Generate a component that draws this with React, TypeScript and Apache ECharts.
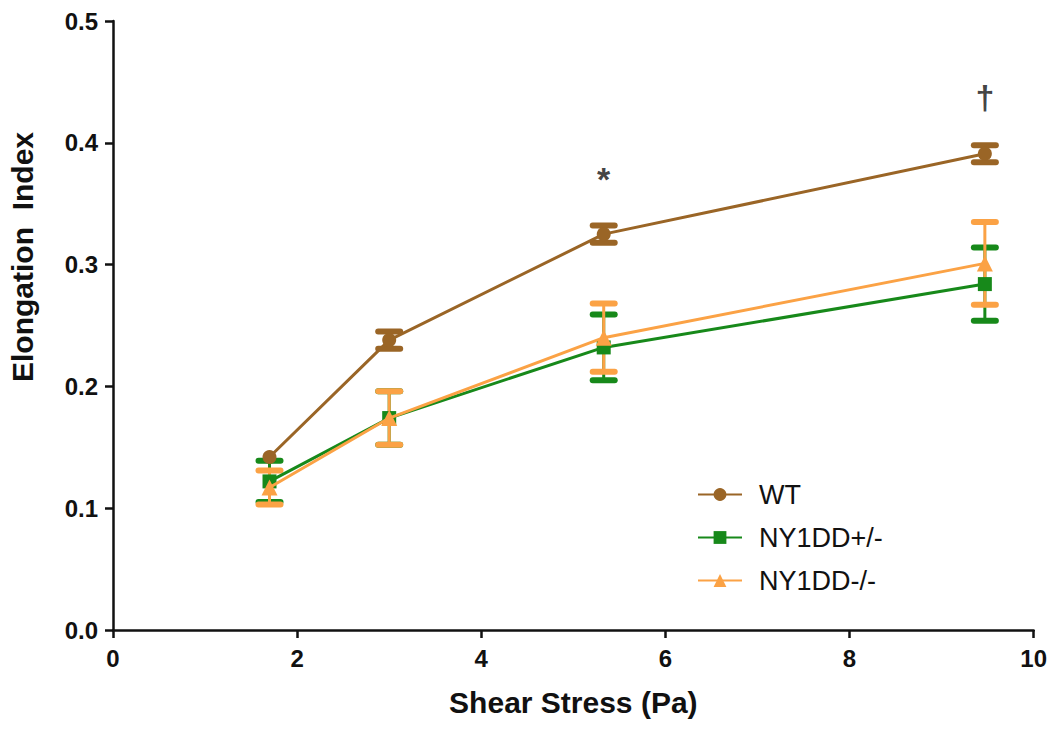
import React, { useEffect, useRef } from "react";
import * as echarts from "echarts";

const shear = [1.7, 3.0, 5.33, 9.47];
const wtMean = [0.142, 0.238, 0.325, 0.391];
const wtErr = [0, 0.007, 0.007, 0.007];
const hetMean = [0.122, 0.174, 0.232, 0.284];
const hetErr = [0.017, 0.022, 0.027, 0.030];
const koMean = [0.117, 0.174, 0.240, 0.301];
const koErr = [0.014, 0.022, 0.028, 0.034];
const marks = [
  { x: 5.33, y: 0.37, text: "*" },
  { x: 9.47, y: 0.438, text: "†" },
];
const xTitle = "Shear Stress (Pa)";
const yTitle = "Elongation  Index";

const C_WT = "#9A6526";
const C_HET = "#17891A";
const C_KO = "#FBA245";

function errSeries(name: string, mean: number[], err: number[], color: string, capW: number, z: number) {
  return {
    type: "custom",
    name: name + "_err",
    z,
    silent: true,
    data: shear.map((x, i) => [x, mean[i] - err[i], mean[i] + err[i]]),
    renderItem: (params: any, api: any) => {
      const x = api.value(0);
      const lo = api.coord([x, api.value(1)]);
      const hi = api.coord([x, api.value(2)]);
      if (Math.abs(lo[1] - hi[1]) < 1) return { type: "group", children: [] };
      const style = { stroke: color, lineWidth: 3 };
      const capStyle = { stroke: color, lineWidth: 6, lineCap: "round" };
      return {
        type: "group",
        children: [
          { type: "line", shape: { x1: lo[0], y1: lo[1], x2: hi[0], y2: hi[1] }, style },
          { type: "line", shape: { x1: lo[0] - capW, y1: lo[1], x2: lo[0] + capW, y2: lo[1] }, style: capStyle },
          { type: "line", shape: { x1: hi[0] - capW, y1: hi[1], x2: hi[0] + capW, y2: hi[1] }, style: capStyle },
        ],
      };
    },
  };
}

export default function App() {
  const ref = useRef<HTMLDivElement>(null);
  useEffect(() => {
    const chart = echarts.init(ref.current!, undefined, { renderer: "svg" });
    const axisFont = { fontFamily: "Liberation Sans", fontWeight: "bold" as const, fontSize: 24, color: "#111" };
    chart.setOption({
      animation: false,
      backgroundColor: "#fff",
      grid: { left: 113, right: 16, top: 21, bottom: 101 },
      graphic: [
        {
          type: "text",
          x: 22,
          y: 257,
          rotation: Math.PI / 2,
          style: {
            text: yTitle,
            fontFamily: "Liberation Sans",
            fontWeight: "bold",
            fontSize: 30,
            fill: "#111",
            align: "center",
            verticalAlign: "middle",
          },
        },
      ],
      legend: {
        orient: "vertical",
        left: 692,
        top: 476,
        itemWidth: 44,
        itemHeight: 16,
        itemGap: 16,
        data: ["WT", "NY1DD+/-", "NY1DD-/-"],
        textStyle: { fontFamily: "Liberation Sans", fontSize: 27, color: "#111", padding: [0, 0, 0, 12] },
      },
      xAxis: {
        type: "value",
        min: 0,
        max: 10,
        interval: 2,
        name: xTitle,
        nameLocation: "middle",
        nameGap: 57,
        nameTextStyle: { ...axisFont, fontSize: 30 },
        splitLine: { show: false },
        axisLine: { lineStyle: { color: "#111", width: 2.5 } },
        axisTick: { show: true, length: 8, lineStyle: { color: "#111", width: 2.5 } },
        axisLabel: { ...axisFont, margin: 16 },
      },
      yAxis: {
        type: "value",
        min: 0,
        max: 0.5,
        interval: 0.1,
        splitLine: { show: false },
        axisLine: { show: true, lineStyle: { color: "#111", width: 2.5 } },
        axisTick: { show: true, length: 8, lineStyle: { color: "#111", width: 2.5 } },
        axisLabel: { ...axisFont, margin: 15, formatter: (v: number) => v.toFixed(1) },
      },
      series: [
        errSeries("WT", wtMean, wtErr, C_WT, 11, 5),
        errSeries("NY1DD+/-", hetMean, hetErr, C_HET, 11, 3),
        errSeries("NY1DD-/-", koMean, koErr, C_KO, 11, 4),
        {
          name: "WT",
          type: "line",
          data: shear.map((x, i) => [x, wtMean[i]]),
          symbol: "circle",
          symbolSize: 14,
          lineStyle: { color: C_WT, width: 3 },
          itemStyle: { color: C_WT },
          z: 6,
        },
        {
          name: "NY1DD+/-",
          type: "line",
          data: shear.map((x, i) => [x, hetMean[i]]),
          symbol: "rect",
          symbolSize: 14,
          lineStyle: { color: C_HET, width: 3 },
          itemStyle: { color: C_HET },
          z: 4,
        },
        {
          name: "NY1DD-/-",
          type: "line",
          data: shear.map((x, i) => [x, koMean[i]]),
          symbol: "triangle",
          symbolSize: 16,
          lineStyle: { color: C_KO, width: 3 },
          itemStyle: { color: C_KO },
          z: 5,
        },
        {
          type: "scatter",
          name: "marks",
          symbolSize: 1,
          itemStyle: { color: "transparent" },
          silent: true,
          data: marks.map((m) => ({ value: [m.x, m.y], label: { formatter: m.text } })),
          label: {
            show: true,
            position: "inside",
            fontFamily: "Liberation Sans",
            fontWeight: "bold",
            fontSize: 34,
            color: "#111",
          },
        },
      ],
    });
    return () => chart.dispose();
  }, []);
  return <div ref={ref} style={{ width: 1050, height: 731, position: "absolute", left: 0, top: 0 }} />;
}
